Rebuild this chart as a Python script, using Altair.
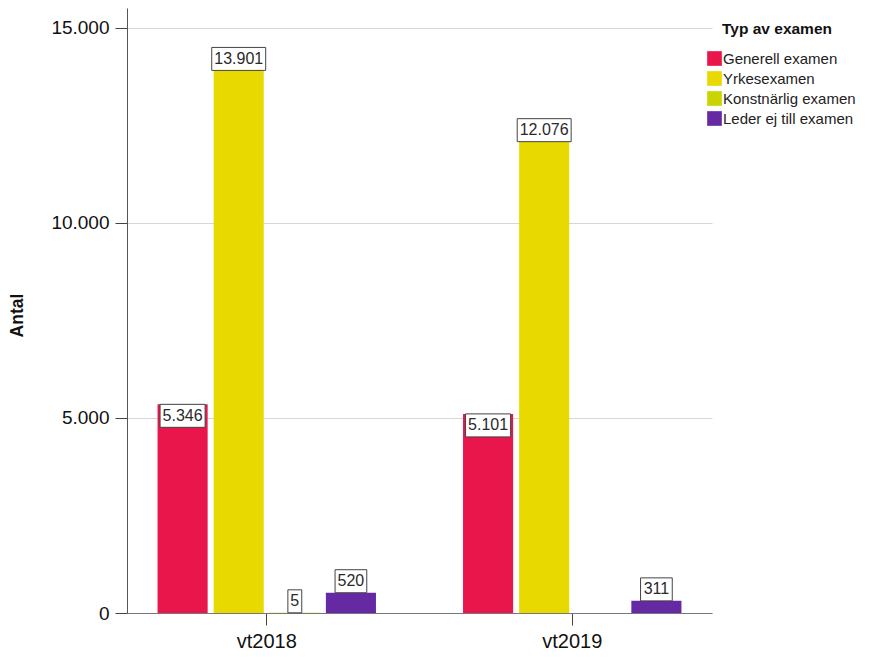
import altair as alt
import pandas as pd

periods = ["vt2018", "vt2019"]
series = ["Generell examen", "Yrkesexamen", "Konstnärlig examen", "Leder ej till examen"]
vt2018 = [5346, 13901, 5, 520]
vt2019 = [5101, 12076, None, 311]
colors = ["#E8164B", "#E8D900", "#C9D400", "#6529A4"]
y_ticks = [0, 5000, 10000, 15000]
legend_title = "Typ av examen"

rows = []
for p, vals in zip(periods, [vt2018, vt2019]):
    for s, v in zip(series, vals):
        rows.append({"period": p, "series": s, "value": v})
df = pd.DataFrame(rows)

FONT = "Liberation Sans, Arial, sans-serif"
BOX_H = 589  # label box height in data units (~23 px)

x_enc = alt.X(
    "period:N",
    scale=alt.Scale(domain=periods, paddingInner=0.285, paddingOuter=0.1),
    axis=alt.Axis(
        title=None, labelAngle=0, labelFontSize=20, labelFont=FONT, labelColor="#111",
        tickSize=12, tickColor="#444", domainColor="#777", labelPadding=6,
    ),
)
xo_enc = alt.XOffset(
    "series:N", scale=alt.Scale(domain=series, paddingInner=0.107, paddingOuter=0)
)
y_scale = alt.Scale(domain=[0, 15500], nice=False, zero=True)
y_axis = alt.Axis(
    title="Antal", values=y_ticks, titleFontSize=17.5, titleFont=FONT, titleFontWeight="bold",
    titleColor="#111", titlePadding=24, titleY=315 - 8,
    labelFontSize=19, labelFont=FONT, labelColor="#111",
    labelExpr="replace(format(datum.value, ','), ',', '.')",
    tickSize=12, tickColor="#444", domainColor="#555",
    grid=True, gridColor="#d6d6d6", labelPadding=6,
)

bars = alt.Chart(df).mark_bar().encode(
    x=x_enc,
    xOffset=xo_enc,
    y=alt.Y("value:Q", scale=y_scale, axis=y_axis),
    color=alt.Color(
        "series:N",
        scale=alt.Scale(domain=series, range=colors),
        legend=alt.Legend(
            title=None, orient="none", legendX=577, legendY=40,
            fillColor="white", padding=3,
            labelFontSize=15, labelFont=FONT, labelColor="#222",
            symbolType="square", symbolSize=215, symbolStrokeWidth=0, rowPadding=4,
            labelOffset=1,
        ),
    ),
)

lab = (
    alt.Chart(df)
    .transform_filter("isValid(datum.value)")
    .transform_calculate(
        label="replace(format(datum.value, ','), ',', '.')",
        inside="datum.series == 'Generell examen'",
    )
    .transform_calculate(
        nd="length(replace(datum.label, '.', ''))",
    )
    .transform_calculate(
        w="datum.nd * 8.9 + (length(datum.label) - datum.nd) * 4.45 + 5",
        ya="datum.value",
        yb=f"datum.inside ? datum.value - {BOX_H} : datum.value + {BOX_H}",
    )
    .transform_calculate(ym="(datum.ya + datum.yb) / 2")
)

boxes = lab.mark_bar(fill="white", stroke="#444", strokeWidth=1).encode(
    x=x_enc,
    xOffset=xo_enc,
    y=alt.Y("ya:Q", scale=y_scale, title="Antal"),
    y2="yb:Q",
    size=alt.Size("w:Q", scale=None),
)

texts = lab.mark_text(fontSize=16, font=FONT, color="#2a2a2a", baseline="middle").encode(
    x=x_enc,
    xOffset=xo_enc,
    y=alt.Y("ym:Q", scale=y_scale, title="Antal"),
    text="label:N",
)

title_df = pd.DataFrame({"t": [legend_title]})
legend_head = alt.Chart(title_df).mark_text(
    fontSize=15.5, font=FONT, fontWeight="bold", color="#111", align="left", baseline="top"
).encode(
    x=alt.value(595), y=alt.value(14), text="t:N"
)

chart = (
    alt.layer(bars, boxes, texts, legend_head)
    .properties(
        width=585, height=605,
        autosize=alt.AutoSizeParams(type="none"),
        padding={"left": 119, "top": 0, "right": 149, "bottom": 41},
        background="white",
    )
    .configure_view(stroke=None)
)

chart.save("out.html", embed_options={"renderer": "svg", "actions": False})
